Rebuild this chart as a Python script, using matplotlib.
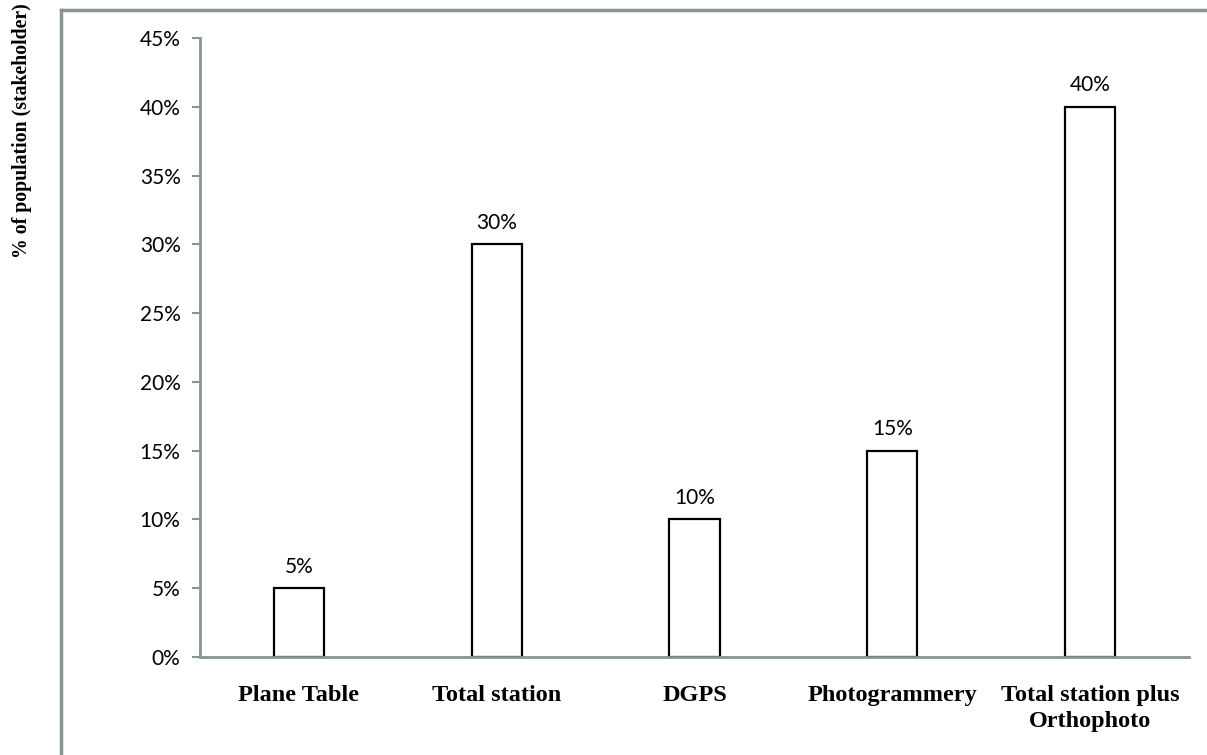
import matplotlib
matplotlib.use("Agg")
import matplotlib.pyplot as plt
from matplotlib.lines import Line2D
from matplotlib.ticker import PercentFormatter

categories = ["Plane Table", "Total station", "DGPS", "Photogrammery",
              "Total station plus\nOrthophoto"]
values = [5, 30, 10, 15, 40]
value_labels = ["5%", "30%", "10%", "15%", "40%"]
yticks = [0, 5, 10, 15, 20, 25, 30, 35, 40, 45]

W, H = 1207, 755
fig = plt.figure(figsize=(W / 100, H / 100), dpi=100)
ax = fig.add_axes([200 / W, 1 - 657 / H, 989 / W, (657 - 38) / H])

gray = "#869595"

x = range(len(categories))
ax.bar(x, values, width=0.253, color="white", edgecolor="black", linewidth=1.6)
for xi, v, lab in zip(x, values, value_labels):
    ax.text(xi, v + 0.85, lab, ha="center", va="bottom", fontsize=15,
            family="Lato")

ax.set_xlim(-0.5, len(categories) - 0.5)
ax.set_ylim(0, 45)
ax.set_yticks(yticks)
ax.yaxis.set_major_formatter(PercentFormatter(decimals=0))
ax.set_xticks(list(x))
ax.set_xticklabels(categories, family="Liberation Serif", fontweight="bold",
                   fontsize=17.5, linespacing=1.35)
ax.tick_params(axis="x", length=0, pad=20)
ax.tick_params(axis="y", length=6, width=1.5, color=gray, labelsize=15, pad=8)
for lab in ax.get_yticklabels():
    lab.set_family("Lato")

for s in ["top", "right"]:
    ax.spines[s].set_visible(False)
for s in ["left", "bottom"]:
    ax.spines[s].set_color(gray)
    ax.spines[s].set_linewidth(2)

fig.text(22 / W, 1 - 131 / H, "% of population (stakeholder)", rotation=90,
         ha="center", va="center", family="Liberation Serif",
         fontweight="bold", fontsize=14.2)

# outer frame (left and top edges)
fig.add_artist(Line2D([61 / W, 61 / W], [0, 1 - 10 / H], color=gray,
                      linewidth=2.5, transform=fig.transFigure))
fig.add_artist(Line2D([61 / W, 1], [1 - 10 / H, 1 - 10 / H], color=gray,
                      linewidth=2.5, transform=fig.transFigure))

fig.savefig("out.png", dpi=100)
